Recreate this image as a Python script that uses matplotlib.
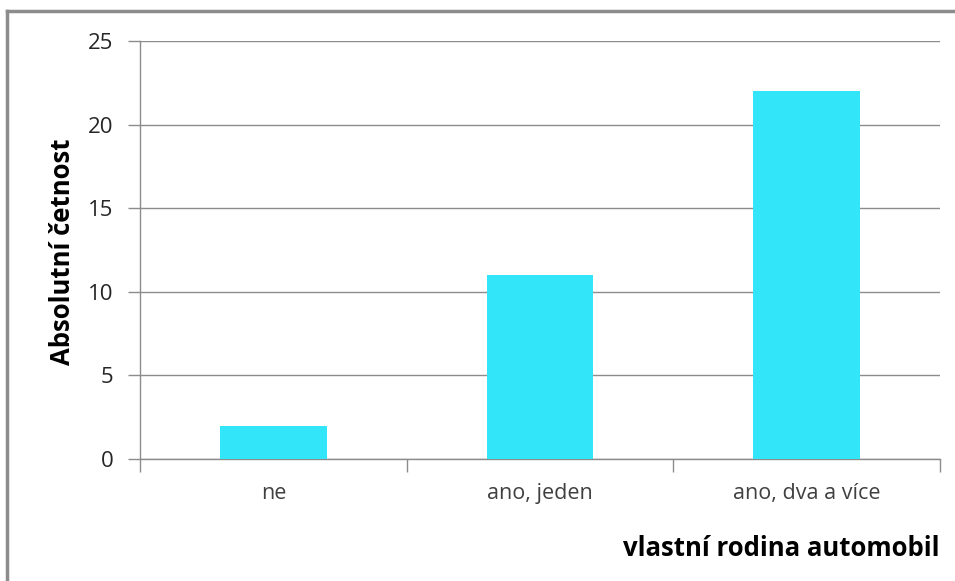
import matplotlib
matplotlib.use('Agg')
import matplotlib.pyplot as plt
from matplotlib.lines import Line2D

# data
categories = ['ne', 'ano, jeden', 'ano, dva a více']
counts = [2, 11, 22]
yticks = [0, 5, 10, 15, 20, 25]

plt.rcParams['font.family'] = ['Open Sans', 'DejaVu Sans']

fig = plt.figure(figsize=(9.55, 5.81), dpi=100)
ax = fig.add_axes([140 / 955, 1 - 459 / 581, 800 / 955, 418 / 581])

grey = '#8c8c8c'
x = range(len(categories))
ax.bar(x, counts, width=0.4, color='#33e5f9', zorder=3)

ax.set_xlim(-0.5, len(categories) - 0.5)
ax.set_ylim(0, 25)
ax.set_yticks(yticks)
ax.yaxis.grid(True, color=grey, linewidth=1)
ax.set_axisbelow(True)

# category labels centred, tick marks between categories
ax.set_xticks(list(x))
ax.set_xticklabels(categories, fontsize=15.5, color='#404040')
ax.tick_params(axis='x', length=0, pad=17)
ax.set_xticks([i - 0.5 for i in range(len(categories) + 1)], minor=True)
ax.tick_params(axis='x', which='minor', length=9, color=grey, width=1)
ax.tick_params(axis='y', length=9, color=grey, width=1, labelsize=16, pad=10, labelcolor='#262626')

for s in ['top', 'right']:
    ax.spines[s].set_visible(False)
for s in ['left', 'bottom']:
    ax.spines[s].set_color(grey)
    ax.spines[s].set_linewidth(1)

ax.set_ylabel('Absolutní četnost', fontsize=18.5, fontweight='bold')
ax.yaxis.label.set_va('center')
ax.yaxis.set_label_coords(-78 / 800, 0.495)
fig.text(939 / 955, 1 - 548 / 581, 'vlastní rodina automobil', fontsize=18.5,
         fontweight='bold', ha='right', va='center')

# outer frame (left and top edges only)
fig.add_artist(Line2D([7 / 955, 7 / 955], [0, 1 - 11 / 581], color='#8c8c8c', lw=2.5,
                      transform=fig.transFigure))
fig.add_artist(Line2D([7 / 955, 1], [1 - 11 / 581, 1 - 11 / 581], color='#8c8c8c', lw=2.5,
                      transform=fig.transFigure))

fig.savefig('out.png', dpi=100)
